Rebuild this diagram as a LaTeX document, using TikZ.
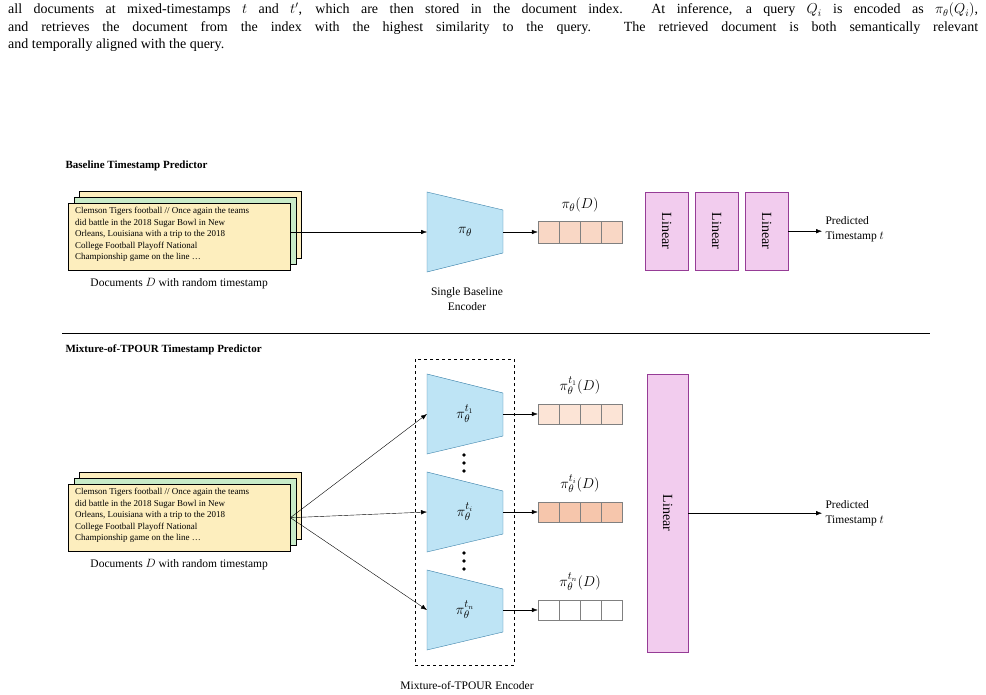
\documentclass[tikz,border=0pt]{standalone}
\usepackage{fontspec}
\setmainfont{Liberation Serif}
\usetikzlibrary{positioning,arrows.meta}

\definecolor{docyellow}{RGB}{253,238,190}
\definecolor{docgreen}{RGB}{200,235,200}
\definecolor{encblue}{RGB}{190,228,245}
\definecolor{encline}{RGB}{60,130,170}
\definecolor{linpink}{RGB}{242,204,238}
\definecolor{linline}{RGB}{150,60,150}
\definecolor{cellA}{RGB}{252,228,214}
\definecolor{cellB}{RGB}{246,198,172}

\tikzset{
  doc/.style={draw, minimum width=222pt, minimum height=67pt, anchor=north west},
  doctext/.style={font=\fontsize{9}{11.6}\selectfont, align=left, anchor=north west, inner sep=0pt},
  enc/.style={draw=encline, fill=encblue},
  cell/.style={draw=gray, minimum width=21pt, inner sep=0pt},
  lin/.style={draw=linline, fill=linpink, anchor=north west},
  arr/.style={-{Latex[length=6pt,width=4.5pt]}},
  lbl/.style={font=\fontsize{11.5}{15}\selectfont, align=center},
  mlbl/.style={font=\fontsize{15}{17}\selectfont},
  title/.style={anchor=west, font=\fontsize{11}{13}\selectfont\bfseries},
}

\begin{document}
\begin{tikzpicture}[x=1pt, y=-1pt]
    \useasboundingbox (0,0) rectangle (986,695);

    % caption text
    \node[anchor=north west, inner sep=0pt, text width=970pt, align=justify,
          font=\fontsize{14}{17.5}\selectfont] (cap) at (8,3)
      {all documents at mixed-timestamps $t$ and $t'$, which are then stored in the document index. At inference, a query $Q_i$ is encoded as $\pi_\theta(Q_i)$,\linebreak and retrieves the document from the index with the highest similarity to the query. The retrieved document is both semantically relevant\linebreak and temporally aligned with the query.};

    % titles
    \node[title] (t1) at (62,166) {Baseline Timestamp Predictor};
    \node[title] (t2) at (62,350) {Mixture-of-TPOUR Timestamp Predictor};
    \draw (62,333) -- (930,333);

    % document stacks
    \foreach \nm/\y in {A/203, B/484} {
      \node[doc, fill=docyellow] at (79,\y-12) {};
      \node[doc, fill=docgreen] at (74,\y-6) {};
      \node[doc, fill=docyellow] (doc\nm) at (68,\y) {};
      \node[doctext] at (75,\y+4) {Clemson Tigers football // Once again the teams\\did battle in the 2018 Sugar Bowl in New\\Orleans, Louisiana with a trip to the 2018\\College Football Playoff National\\Championship game on the line \dots};
      \node[lbl, below=4pt of doc\nm] {Documents $D$ with random timestamp};
    }

    % baseline encoder
    \draw[enc] (427,192) -- (503,210) -- (503,253) -- (427,272) -- cycle;
    \node[mlbl] (encA) at (465,232) {$\pi_\theta$};
    \coordinate (encAin) at (427,232);
    \coordinate (encAout) at (503,232);
    \node[lbl] at (467,299) {Single Baseline\\Encoder};
    \draw[arr] (docA.east |- encAin) -- (encAin);

    \foreach \k in {0,...,3}
      \node[cell, fill=cellB!70, minimum height=22pt] (vA\k) at (548.5+21*\k,232) {};
    \node[mlbl] at (580,205) {$\pi_\theta(D)$};
    \draw[arr] (encAout) -- (vA0.west);

    \foreach \k in {0,1,2}
      \node[lin, minimum width=43pt, minimum height=78pt] (lA\k) at (645+50*\k,192) {};
    \foreach \k in {0,1,2}
      \node[rotate=-90, font=\fontsize{14}{16}\selectfont] at (lA\k.center) {Linear};
    \node[lbl, anchor=west, align=left] (pA) at (822,229) {Predicted\\Timestamp $t$};
    \draw[arr] (lA2.east) -- (lA2.east -| pA.west);

    % mixture encoders
    \draw[dashed] (415,359) rectangle (514,665);
    \node[lbl] at (467,686) {Mixture-of-TPOUR Encoder};
    \foreach \nm/\y/\lab/\col in {1/414/t_1/cellA, i/512/t_i/cellB, n/610/t_n/white} {
      \draw[enc] (427,\y-40) -- (503,\y-21) -- (503,\y+22) -- (427,\y+40) -- cycle;
      \node[mlbl] (enc\nm) at (465,\y) {$\pi_\theta^{\lab}$};
      \coordinate (in\nm) at (427,\y);
      \coordinate (out\nm) at (503,\y);
      \foreach \k in {0,...,3}
        \node[cell, fill=\col, minimum height=20pt] (v\nm\k) at (548.5+21*\k,\y) {};
      \node[mlbl] at (580,\y-28) {$\pi_\theta^{\lab}(D)$};
      \draw[arr] (out\nm) -- (v\nm0.west);
      \draw[arr] (docB.east) -- (in\nm);
    }
    \foreach \y in {455,463,471,553,561,569}
      \fill (464,\y) circle (1.8pt);

    \node[lin, minimum width=41pt, minimum height=278pt] (lB) at (647,374) {};
    \node[rotate=-90, font=\fontsize{14}{16}\selectfont] at (lB.center) {Linear};
    \node[lbl, anchor=west, align=left] (pB) at (822,513) {Predicted\\Timestamp $t$};
    \draw[arr] (lB.east) -- (lB.east -| pB.west);
\end{tikzpicture}
\end{document}
